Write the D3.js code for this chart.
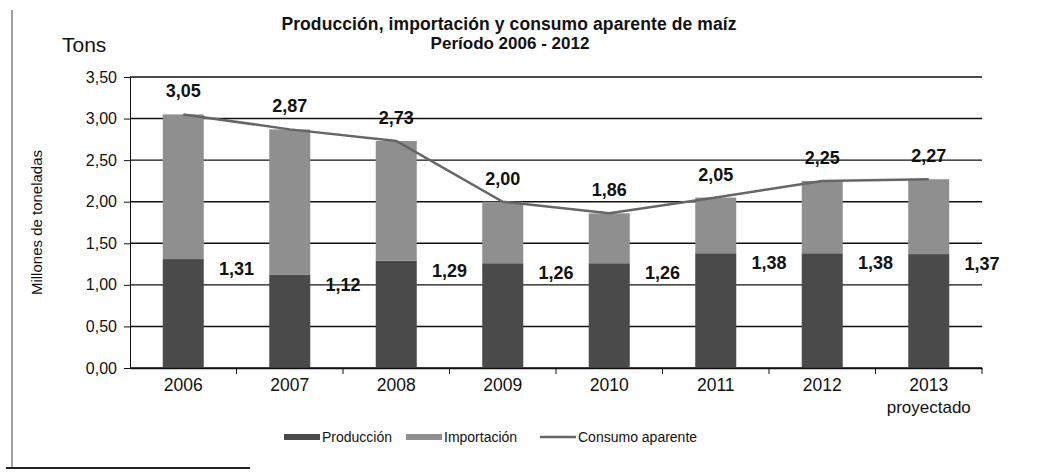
<!DOCTYPE html>
<html>
<head>
<meta charset="utf-8">
<script src="https://cdn.jsdelivr.net/npm/d3@7"></script>
<style>
  body { margin: 0; background: #fff; }
  text { font-family: "Liberation Sans", Arial, sans-serif; fill: #111; }
</style>
</head>
<body>
<div id="chart"></div>
<script>
const years = ["2006", "2007", "2008", "2009", "2010", "2011", "2012", "2013"];
const produccion = [1.31, 1.12, 1.29, 1.26, 1.26, 1.38, 1.38, 1.37];
const importacion = [1.74, 1.75, 1.44, 0.74, 0.60, 0.67, 0.87, 0.90];
const consumo = [3.05, 2.87, 2.73, 2.00, 1.86, 2.05, 2.25, 2.27];
const yTicks = [0, 0.5, 1, 1.5, 2, 2.5, 3, 3.5];
const seriesNames = ["Producción", "Importación", "Consumo aparente"];

const width = 1056, height = 473;
const margin = {top: 77, right: 74, bottom: 105, left: 130};

const svg = d3.select("#chart").append("svg")
  .attr("width", width)
  .attr("height", height);

// page frame (left + bottom edge of the scan)
svg.append("line").attr("x1", 12).attr("x2", 12).attr("y1", 10).attr("y2", 468)
  .attr("stroke", "#444").attr("stroke-width", 1);
svg.append("line").attr("x1", 6).attr("x2", 250).attr("y1", 468).attr("y2", 468)
  .attr("stroke", "#222").attr("stroke-width", 2);

const x = d3.scaleBand()
  .domain(years)
  .range([margin.left, width - margin.right])
  .paddingInner(0.615)
  .paddingOuter(0.3075);

const y = d3.scaleLinear()
  .domain([0, 3.5])
  .range([height - margin.bottom, margin.top]);

const fmt = function(v) { return v.toFixed(2).replace(".", ","); };

// title
svg.append("text")
  .attr("x", 509).attr("y", 30)
  .attr("text-anchor", "middle")
  .style("font-weight", "bold").style("font-size", "17.5px").style("letter-spacing", "0.1px")
  .text("Producción, importación y consumo aparente de maíz");
svg.append("text")
  .attr("x", 510).attr("y", 49)
  .attr("text-anchor", "middle")
  .style("font-weight", "bold").style("font-size", "17px")
  .text("Período 2006 - 2012");

svg.append("text")
  .attr("x", 62).attr("y", 52)
  .style("font-size", "21px")
  .text("Tons");

svg.append("text")
  .attr("transform", "translate(42," + y(1.75) + ")rotate(-90)")
  .attr("text-anchor", "middle")
  .style("font-size", "15px")
  .text("Millones de toneladas");

// gridlines
svg.append("g")
  .selectAll("line")
  .data(yTicks)
  .enter().append("line")
    .attr("x1", margin.left).attr("x2", width - margin.right)
    .attr("y1", function(d) { return y(d); })
    .attr("y2", function(d) { return y(d); })
    .attr("stroke", "#111").attr("stroke-width", 1.4);

// y axis
const yAxis = svg.append("g")
  .attr("transform", "translate(" + margin.left + ",0)")
  .call(d3.axisLeft(y).tickValues(yTicks).tickFormat(fmt).tickSize(6).tickPadding(7));
yAxis.select(".domain").attr("stroke", "#111");
yAxis.selectAll("line").attr("stroke", "#111");
yAxis.selectAll("text").style("font-size", "16px").style("fill", "#111");

// stacked bars
const rows = years.map(function(yr, i) {
  return {year: yr, prod: produccion[i], imp: importacion[i]};
});
const stacked = d3.stack().keys(["prod", "imp"])(rows);
const color = d3.scaleOrdinal().domain(["prod", "imp"]).range(["#4a4a4a", "#8f8f8f"]);

svg.append("g")
  .selectAll("g")
  .data(stacked)
  .enter().append("g")
    .attr("fill", function(d) { return color(d.key); })
  .selectAll("rect")
  .data(function(d) { return d; })
  .enter().append("rect")
    .attr("x", function(d) { return x(d.data.year); })
    .attr("width", x.bandwidth())
    .attr("y", function(d) { return y(d[1]); })
    .attr("height", function(d) { return y(d[0]) - y(d[1]); });

// x axis
const xAxis = svg.append("g")
  .attr("transform", "translate(0," + y(0) + ")")
  .call(d3.axisBottom(x).tickSize(0).tickPadding(11));
xAxis.select(".domain").attr("stroke", "#111").attr("stroke-width", 1.5);
xAxis.selectAll("text").style("font-size", "17.5px").style("fill", "#111");
xAxis.selectAll(".tick").filter(function(d) { return d === "2013"; })
  .append("text")
    .attr("y", 33).attr("dy", "0.71em")
    .style("font-size", "17px").style("fill", "#111")
    .text("proyectado");

// category boundary ticks
svg.append("g")
  .selectAll("line")
  .data(years)
  .enter().append("line")
    .attr("x1", function(d) { return x(d) + x.bandwidth() + x.step() * x.paddingInner() / 2; })
    .attr("x2", function(d) { return x(d) + x.bandwidth() + x.step() * x.paddingInner() / 2; })
    .attr("y1", y(0)).attr("y2", y(0) + 6)
    .attr("stroke", "#111");

// consumo aparente line
const valueline = d3.line()
  .x(function(d, i) { return x(years[i]) + x.bandwidth() / 2; })
  .y(function(d) { return y(d); });

svg.append("path")
  .attr("d", valueline(consumo))
  .attr("fill", "none")
  .attr("stroke", "#666")
  .attr("stroke-width", 2.5);

// labels
svg.append("g")
  .selectAll("text")
  .data(consumo)
  .enter().append("text")
    .attr("x", function(d, i) { return x(years[i]) + x.bandwidth() / 2; })
    .attr("y", function(d) { return y(d) - 17; })
    .attr("text-anchor", "middle")
    .style("font-weight", "bold").style("font-size", "18px")
    .text(fmt);

svg.append("g")
  .selectAll("text")
  .data(produccion)
  .enter().append("text")
    .attr("x", function(d, i) { return x(years[i]) + x.bandwidth() + x.step() * x.paddingInner() / 2; })
    .attr("y", function(d) { return y(d) + 16; })
    .attr("text-anchor", "middle")
    .style("font-weight", "bold").style("font-size", "18px")
    .text(fmt);

// legend
const legend = svg.append("g").attr("transform", "translate(0,437)");
const legendItems = [
  {name: seriesNames[0], x: 284, type: "rect", fill: color("prod")},
  {name: seriesNames[1], x: 406, type: "rect", fill: color("imp")},
  {name: seriesNames[2], x: 540, type: "line", fill: "#666"}
];
legendItems.forEach(function(it) {
  if (it.type === "rect") {
    legend.append("rect").attr("x", it.x).attr("y", -3).attr("width", 36).attr("height", 6).attr("fill", it.fill);
  } else {
    legend.append("line").attr("x1", it.x).attr("x2", it.x + 36).attr("y1", 0).attr("y2", 0)
      .attr("stroke", it.fill).attr("stroke-width", 2.5);
  }
  legend.append("text")
    .attr("x", it.x + 38).attr("y", 5)
    .style("font-size", "14px")
    .text(it.name);
});
</script>
</body>
</html>
